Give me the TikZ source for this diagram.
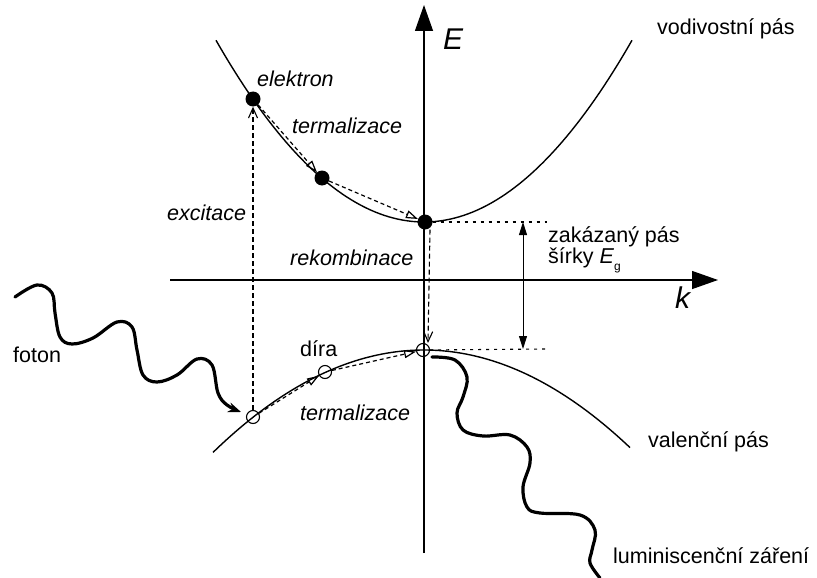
\documentclass[tikz,border=0pt]{standalone}
\usepackage{fontspec}
\setmainfont{Liberation Sans}
\usetikzlibrary{arrows.meta}
\begin{document}
\begin{tikzpicture}[x=1pt,y=-1pt,
  lbl/.style={font=\fontsize{21.5}{25}\selectfont, inner sep=0pt, anchor=base west},
  ilbl/.style={lbl, font=\fontsize{21.5}{25}\selectfont\itshape},
  axlbl/.style={lbl, font=\fontsize{30}{34}\selectfont\itshape},
  bandline/.style={line width=1.4pt},
  axisline/.style={line width=1.3pt, -{Triangle[length=26pt,width=18pt]}},
  electron/.style={circle, fill=black, inner sep=0pt, minimum size=15pt},
  hole/.style={circle, draw, line width=1.1pt, inner sep=0pt, minimum size=13pt},
  vdash/.style={line width=1.1pt, dash pattern=on 5pt off 3pt, -{Straight Barb[length=10pt,width=9pt]}},
  therm/.style={line width=1.2pt, dash pattern=on 4pt off 3pt, -{Triangle[open,length=12pt,width=8pt]}},
  gapline/.style={line width=1.1pt, dash pattern=on 3pt off 5pt},
  gaparrow/.style={line width=0.9pt, {Triangle[length=13pt,width=8pt]}-{Triangle[length=13pt,width=8pt]}},
  wave/.style={line width=3.2pt, line cap=round, line join=round},
]
\useasboundingbox (0,0) rectangle (817,578);

% axes
\coordinate (ybot) at (424,553);
\coordinate (ytop) at (424,5);
\coordinate (xleft) at (170,280);
\coordinate (xright) at (718,280);
\draw[axisline] (ybot) -- (ytop);
\draw[axisline] (xleft) -- (xright);
\node[axlbl] (Elbl) at (443,50) {E};
\node[axlbl] (klbl) at (675,308) {k};

% bands
\draw[bandline] plot[domain=-208:208, samples=90] ({424+\x},{222-0.42*(\x/10)*(\x/10)});
\draw[bandline] plot[domain=-211:206, samples=90] ({424+\x},{350+0.23*(\x/10)*(\x/10)});

% particles
\node[electron] (e1) at (253,99) {};
\node[electron] (e2) at (322,178) {};
\node[electron] (e3) at (425,222) {};
\node[hole] (h1) at (253,417) {};
\node[hole] (h2) at (325,372) {};
\node[hole] (h3) at (423,350) {};

% gap
\coordinate (gl1) at (547,222);
\coordinate (gl2) at (547,349);
\coordinate (ga1) at (523,222);
\coordinate (ga2) at (523,349);
\draw[gapline] (e3) -- (gl1);
\draw[gapline] (h3) -- (gl2);
\draw[gaparrow] (ga1) -- (ga2);

% transitions
\draw[vdash] (h1) -- (e1);
\draw[vdash] ([xshift=5pt]e3.south) -- ([xshift=5pt]h3.north);
\draw[therm] (e1) -- (e2);
\draw[therm] (e2) -- (e3);
\draw[therm] (h1) -- (h2);
\draw[therm] (h2) -- (h3);

% photon
\coordinate (fstart) at (15,297);
\coordinate (ftip) at (241,412);
\draw[wave, -{Stealth[length=13pt,width=10pt]}] plot[smooth, tension=0.6] coordinates {
 (fstart) (37,285) (52,293) (55,313) (60,337) (72,344) (93,338) (117,322) (132,327)
 (137,350) (143,375) (157,382) (177,375) (197,359) (212,365) (218,393) (227,405) (ftip)};

% luminescence
\coordinate (lstart) at (432,357);
\coordinate (lend) at (600,578);
\draw[wave] plot[smooth, tension=0.6] coordinates {
 (lstart) (455,360) (467,377) (463,397) (457,413) (463,430) (483,436) (510,435) (527,447)
 (530,463) (523,487) (527,507) (540,513) (580,515) (595,530) (592,550) (590,563) (lend)};

% labels
\node[lbl] (vod) at (657,35) {vodivostní pás};
\node[lbl] (val) at (648,447) {valenční pás};
\node[lbl] (lum) at (613,563) {luminiscenční záření};
\node[lbl] (fot) at (13,362) {foton};
\node[lbl] (dira) at (300,356) {díra};
\node[ilbl] (term2) at (300,420) {termalizace};
\node[ilbl] (term1) at (292,133) {termalizace};
\node[ilbl] (elek) at (257,87) {elektron};
\node[ilbl] (exc) at (167,220) {excitace};
\node[ilbl] (rek) at (290,265) {rekombinace};
\node[lbl] (zak) at (548,242) {zakázaný pás};
\node[lbl] (sir) at (548,263) {šírky \textit{E}\raisebox{-7pt}{\fontsize{12}{12}\selectfont g}};
\end{tikzpicture}
\end{document}
